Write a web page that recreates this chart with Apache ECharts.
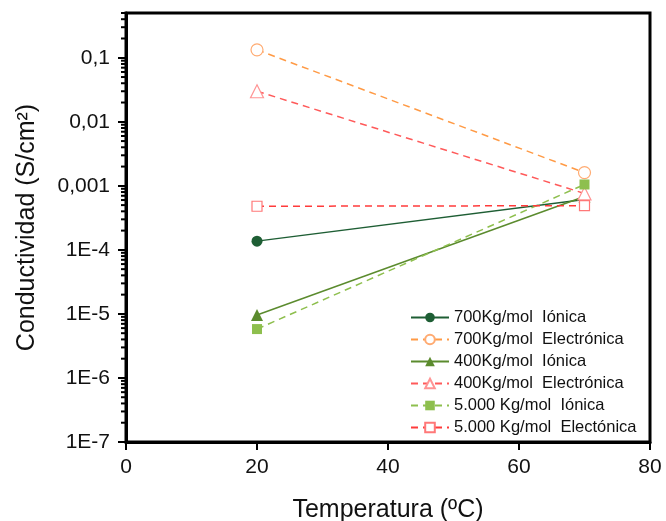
<!DOCTYPE html>
<html>
<head>
<meta charset="utf-8">
<script src="https://cdn.jsdelivr.net/npm/echarts@6/dist/echarts.min.js"></script>
<style>
  html, body { margin: 0; padding: 0; background: #fff; }
  #chart { width: 666px; height: 521px; }
</style>
</head>
<body>
<div id="chart"></div>
<script>
// Temperatures (ºC) at which conductivity was measured
var temperatures = [20, 70];

// Conductivity values (S/cm²) for each molecular weight and carrier type
var ionic700 = [1.37e-4, 6.1e-4];
var electronic700 = [0.133, 1.61e-3];
var ionic400 = [9.6e-6, 6.8e-4];
var electronic400 = [0.030, 7.6e-4];
var ionic5000 = [5.8e-6, 1.05e-3];
var electronic5000 = [4.8e-4, 4.9e-4];

// Legend / series names
var seriesNames = [
  '700Kg/mol  Iónica',
  '700Kg/mol  Electrónica',
  '400Kg/mol  Iónica',
  '400Kg/mol  Electrónica',
  '5.000 Kg/mol  Iónica',
  '5.000 Kg/mol  Electónica'
];

// Decade tick values on the log axis and their printed labels
var yTickValues = [1e-7, 1e-6, 1e-5, 1e-4, 1e-3, 1e-2, 1e-1];
var yTickLabels = ['1E-7', '1E-6', '1E-5', '1E-4', '0,001', '0,01', '0,1'];

// Minor tick multipliers within each decade
var minorMultipliers = [2, 3, 4, 5, 6, 7, 8, 9];

var yMin = 1e-7, yMax = 0.5;

function pairs(values) {
  return temperatures.map(function (t, i) { return [t, values[i]]; });
}

var minorTickData = [];
yTickValues.forEach(function (d) {
  minorMultipliers.forEach(function (m) {
    var v = d * m;
    if (v <= yMax * 1.0000001) minorTickData.push([0, v]);
  });
});

function yLabel(v) {
  for (var i = 0; i < yTickValues.length; i++) {
    if (Math.abs(Math.log10(v) - Math.log10(yTickValues[i])) < 1e-6) return yTickLabels[i];
  }
  return '';
}

var FONT = 'Liberation Sans, Arial, sans-serif';

function mkSeries(name, values, opts) {
  return {
    name: name,
    type: 'line',
    data: pairs(values),
    symbol: opts.symbol,
    symbolSize: opts.size,
    showSymbol: true,
    lineStyle: { color: opts.line, width: 1.5, type: opts.dashed ? [7, 5] : 'solid' },
    itemStyle: opts.empty
      ? { color: '#fff', borderColor: opts.marker, borderWidth: 1.2 }
      : { color: opts.marker, borderColor: opts.marker, borderWidth: 0 },
    emphasis: { disabled: true },
    z: 3
  };
}

var chart = echarts.init(document.getElementById('chart'), null, { renderer: 'canvas' });

chart.setOption({
  animation: false,
  backgroundColor: '#fff',
  grid: {
    left: 126, right: 16, top: 13, bottom: 79,
    outerBoundsMode: 'none',
    containLabel: false,
    show: true, borderColor: '#000', borderWidth: 3, backgroundColor: 'transparent'
  },
  legend: {
    orient: 'vertical',
    left: 410, top: 309,
    padding: 0,
    itemWidth: 38, itemHeight: 12, itemGap: 5,
    textStyle: { fontFamily: FONT, fontSize: 16.5, color: '#111' },
    data: seriesNames
  },
  xAxis: {
    type: 'value',
    min: 0, max: 80, interval: 20,
    name: 'Temperatura (ºC)',
    nameLocation: 'middle',
    nameGap: 56,
    nameTextStyle: { fontFamily: FONT, fontSize: 25, color: '#111' },
    axisLine: { show: true, lineStyle: { color: '#000', width: 3 } },
    axisTick: { show: true, inside: false, length: 8, lineStyle: { color: '#000', width: 2 } },
    axisLabel: { fontFamily: FONT, fontSize: 21, color: '#111', margin: 15 },
    splitLine: { show: false }
  },
  yAxis: {
    type: 'log',
    logBase: 10,
    min: yMin, max: yMax,
    name: 'Conductividad (S/cm²)',
    nameLocation: 'middle',
    nameGap: 86,
    nameRotate: 90,
    nameTextStyle: { fontFamily: FONT, fontSize: 25, color: '#111' },
    axisLine: { show: true, lineStyle: { color: '#000', width: 3 } },
    axisTick: { show: true, inside: false, length: 8, lineStyle: { color: '#000', width: 2 } },
    axisLabel: { fontFamily: FONT, fontSize: 21, color: '#111', margin: 16, formatter: yLabel, showMaxLabel: false },
    splitLine: { show: false },
    minorTick: { show: false }
  },
  series: [
    mkSeries(seriesNames[0], ionic700, { symbol: 'circle', size: 11, line: '#1e5e34', marker: '#1e5e34' }),
    mkSeries(seriesNames[1], electronic700, { symbol: 'circle', size: 12, line: '#ff9a45', marker: '#ffab72', empty: true, dashed: true }),
    mkSeries(seriesNames[2], ionic400, { symbol: 'triangle', size: 12, line: '#5b8b2e', marker: '#5b8b2e' }),
    mkSeries(seriesNames[3], electronic400, { symbol: 'triangle', size: 13, line: '#ff5a5a', marker: '#ff9494', empty: true, dashed: true }),
    mkSeries(seriesNames[4], ionic5000, { symbol: 'rect', size: 10, line: '#8ebf4e', marker: '#8ebf4e', dashed: true }),
    mkSeries(seriesNames[5], electronic5000, { symbol: 'rect', size: 10, line: '#ff3b3b', marker: '#ff7878', empty: true, dashed: true }),
    {
      // Minor ticks of the logarithmic axis (2..9 within each decade)
      type: 'custom',
      name: 'minorTicks',
      data: minorTickData,
      clip: false,
      silent: true,
      z: 5,
      renderItem: function (params, api) {
        var p = api.coord([api.value(0), api.value(1)]);
        return {
          type: 'line',
          shape: { x1: p[0] - 5, y1: p[1], x2: p[0], y2: p[1] },
          style: { stroke: '#000', lineWidth: 2 }
        };
      }
    }
  ]
});
</script>
</body>
</html>
